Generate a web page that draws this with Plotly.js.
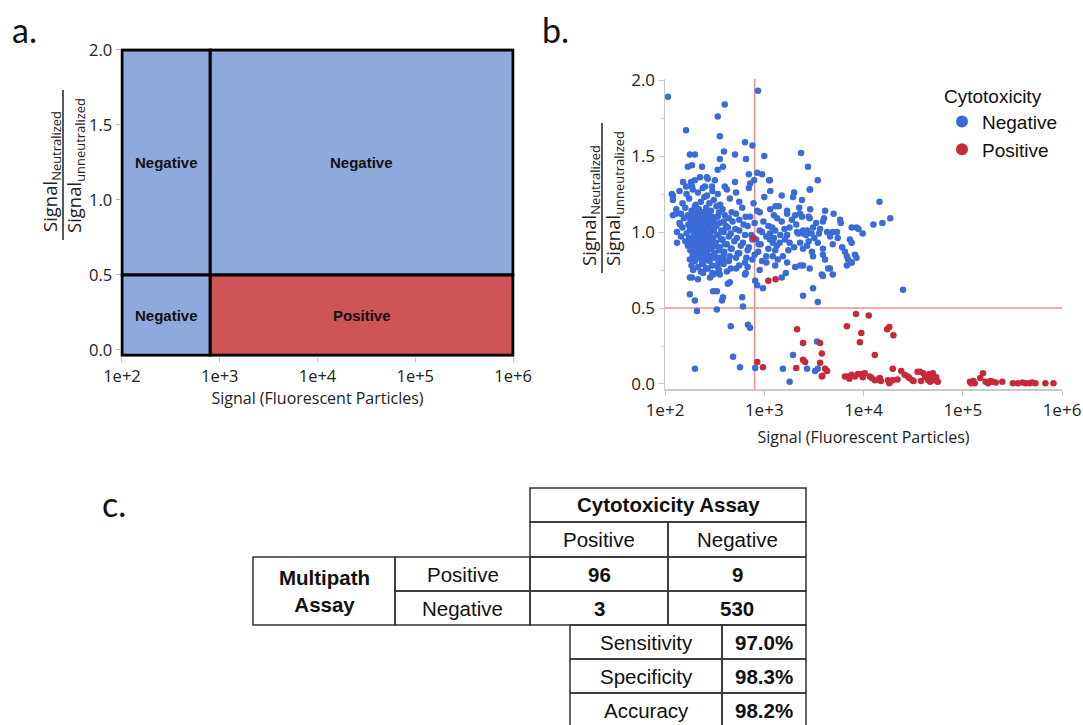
<!DOCTYPE html>
<html><head><meta charset="utf-8">
<script src="https://cdn.plot.ly/plotly-3.0.1.min.js"></script>
<style>html,body{margin:0;padding:0;background:#fff}#chart{width:1083px;height:725px}</style>
</head><body><div id="chart"></div>
<script>
// ================= DATA =================
const signalCutoff = 800;
const ratioCutoff = 0.5;
const decadeTicks = [100, 1000, 10000, 100000, 1000000];
const decadeLabels = ['1e+2', '1e+3', '1e+4', '1e+5', '1e+6'];
const ratioTicks = [0, 0.5, 1.0, 1.5, 2.0];
const ratioLabels = ['0.0', '0.5', '1.0', '1.5', '2.0'];
const xTitle = 'Signal (Fluorescent Particles)';
const yNumerator = 'Signal<sub>Neutralized</sub>';
const yDenominator = 'Signal<sub>unneutralized</sub>';
const regionLabels = ['Negative', 'Negative', 'Negative', 'Positive']; // upper-left, upper-right, lower-left, lower-right
const legendTitle = 'Cytotoxicity';
const classNames = ['Negative', 'Positive'];
const panelLabels = ['a.', 'b.', 'c.'];

// panel b points: [signal, ratio]
const negPoints = [
  [107,1.89],[865,1.93],[400,1.84],[340,1.76],[163,1.67],[357,1.63],[640,1.59],[760,1.57],[393,1.53],[178,1.51],
  [200,1.51],[507,1.51],[1000,1.50],[357,1.48],[655,1.48],[2350,1.52],[170,1.43],[187,1.44],[236,1.43],[384,1.43],
  [2760,1.43],[340,1.41],[700,1.38],[850,1.39],[950,1.38],[225,1.36],[264,1.36],[270,1.35],[1120,1.34],[3460,1.34],
  [152,1.33],[183,1.33],[200,1.34],[318,1.34],[507,1.33],[720,1.32],[790,1.34],[400,1.30],[253,1.30],[297,1.30],
  [163,1.30],[187,1.30],[2870,1.28],[1140,1.34],[117,1.25],[120,1.24],[129,1.12],[120,1.11],[142,1.05],[132,0.93],
  [140,1.27],[165,1.25],[190,1.28],[215,1.26],[240,1.29],[265,1.24],[300,1.27],[340,1.25],[420,1.28],[520,1.26],[700,1.29],[1150,1.27],[1500,1.24],[2000,1.26],[2900,1.28],
  [120,1.21],[150,1.19],[175,1.22],[205,1.18],[230,1.20],[250,1.23],[280,1.19],[310,1.21],[360,1.18],[450,1.22],[560,1.20],[780,1.19],[1000,1.23],[1300,1.17],[1950,1.23],[2400,1.21],[14500,1.20],
  [130,1.15],[160,1.16],[185,1.14],[200,1.17],[220,1.15],[245,1.13],[260,1.16],[290,1.14],[330,1.17],[380,1.15],[470,1.13],[600,1.16],[850,1.14],[1150,1.15],[1400,1.17],[1700,1.14],[2250,1.16],[2900,1.15],
  [145,1.12],[170,1.11],[195,1.13],[210,1.12],[225,1.10],[240,1.13],[255,1.11],[270,1.12],[300,1.10],[350,1.13],[400,1.11],[520,1.12],[650,1.10],[900,1.13],[1250,1.11],[1700,1.12],[2050,1.11],[2300,1.12],[2800,1.10],[4100,1.14],[5000,1.12],
  [155,1.09],[180,1.08],[192,1.10],[205,1.07],[218,1.09],[232,1.08],[248,1.10],[262,1.07],[280,1.09],[310,1.08],[340,1.10],[390,1.07],[440,1.09],[560,1.08],[720,1.10],[980,1.07],[1350,1.09],[1900,1.08],[2400,1.10],[2870,1.09],[4000,1.09],[18600,1.09],
  [140,1.06],[172,1.05],[188,1.07],[200,1.06],[212,1.04],[226,1.07],[240,1.05],[255,1.06],[275,1.04],[295,1.07],[320,1.05],[355,1.06],[410,1.04],[480,1.07],[620,1.05],[800,1.06],[1100,1.04],[1500,1.07],[2100,1.05],[3330,1.06],[3900,1.07],[5800,1.08],[15500,1.06],[12600,1.05],
  [150,1.03],[178,1.02],[190,1.04],[203,1.01],[215,1.03],[228,1.02],[242,1.04],[258,1.01],[276,1.03],[300,1.02],[330,1.04],[370,1.01],[430,1.03],[510,1.02],[680,1.04],[900,1.01],[1200,1.03],[1600,1.02],[1800,1.03],[2460,1.01],[2700,1.01],[3100,1.03],[3650,1.02],[5900,1.06],[7600,1.03],[8500,1.03],[8900,1.02],
  [132,1.00],[165,0.99],[185,1.01],[198,0.98],[210,1.00],[222,0.99],[236,1.01],[250,0.98],[266,1.00],[285,0.99],[310,1.01],[345,0.98],[390,1.00],[460,0.99],[560,1.01],[740,0.98],[950,1.00],[1140,0.99],[1290,1.01],[1450,0.98],[2140,1.00],[2460,0.99],[3000,0.99],[3560,0.99],[4300,1.00],[4900,1.00],[5400,1.00],[9800,0.99],
  [145,0.97],[175,0.96],[195,0.98],[207,0.95],[219,0.97],[233,0.96],[247,0.98],[262,0.95],[280,0.97],[305,0.96],[335,0.98],[380,0.95],[440,0.97],[530,0.96],[640,0.98],[830,0.95],[1050,0.97],[1250,0.96],[1700,0.98],[2200,0.99],[2630,0.98],[3200,0.96],[4600,0.97],[5500,0.96],
  [160,0.94],[182,0.93],[200,0.95],[215,0.92],[228,0.94],[243,0.93],[258,0.95],[275,0.92],[298,0.94],[325,0.93],[365,0.95],[420,0.92],[500,0.94],[610,0.93],[760,0.95],[920,0.92],[1140,0.95],[1220,0.93],[1620,0.95],[1800,0.93],[2300,0.93],[2800,0.94],[3460,0.93],[4900,0.92],[7300,0.95],[7600,0.93],
  [170,0.91],[190,0.90],[206,0.92],[222,0.89],[238,0.91],[253,0.90],[272,0.92],[295,0.89],[320,0.91],[355,0.90],[400,0.92],[470,0.89],[580,0.91],[700,0.90],[880,0.92],[1340,0.91],[1430,0.93],[2000,0.90],[2700,0.91],[3900,0.89],[6100,0.90],
  [180,0.88],[198,0.87],[214,0.89],[230,0.86],[246,0.88],[265,0.87],[288,0.89],[315,0.86],[350,0.88],[395,0.87],[460,0.89],[560,0.86],[680,0.88],[870,0.87],[1100,0.89],[1290,0.88],[1750,0.88],[2460,0.89],[6500,0.87],[6800,0.84],
  [190,0.85],[208,0.84],[225,0.86],[242,0.83],[262,0.85],[285,0.84],[312,0.86],[348,0.83],[390,0.85],[450,0.84],[540,0.86],[660,0.83],[800,0.85],[1050,0.84],[1220,0.84],[1540,0.84],[3020,0.87],[3900,0.85],[8200,0.85],[7600,0.80],
  [178,0.82],[200,0.81],[218,0.83],[236,0.80],[256,0.82],[280,0.81],[310,0.83],[345,0.80],[390,0.82],[440,0.81],[520,0.83],[640,0.80],[760,0.82],[950,0.81],[1370,0.82],[1700,0.80],[3100,0.84],[4100,0.82],[7000,0.82],[8500,0.83],
  [185,0.78],[215,0.77],[242,0.79],[270,0.76],[300,0.78],[340,0.77],[390,0.79],[460,0.76],[560,0.78],[680,0.77],[1050,0.80],[1290,0.78],[2050,0.77],[2300,0.78],[2460,0.78],[4400,0.76],[6800,0.78],
  [192,0.75],[230,0.74],[260,0.76],[300,0.73],[350,0.75],[420,0.74],[520,0.76],[650,0.73],[900,0.75],[1650,0.73],[2870,0.76],[4600,0.76],[7600,0.80],
  [215,0.69],[242,0.73],[284,0.70],[305,0.72],[340,0.73],[357,0.72],[450,0.67],[640,0.72],[3900,0.71],[3800,0.72],[4900,0.72],
  [178,0.70],[187,0.70],[430,0.66],[810,0.68],[850,0.65],[970,0.63],[1500,0.70],
  [178,0.59],[200,0.55],[305,0.61],[333,0.61],[375,0.55],[384,0.57],[610,0.51],[600,0.57],[3100,0.63],[2460,0.58],
  [3460,0.54],[25000,0.62],[210,0.48],[333,0.49],[460,0.38],[685,0.39],[720,0.37],[485,0.18],[200,0.10],[570,0.11],
  [810,0.105],[1540,0.10],[1800,0.015],[1950,0.19],[2700,0.10],[3250,0.085],[3460,0.10],[3400,0.28]
];
const posPoints = [
  [1100,0.68],[1300,0.69],[780,0.96],
  [2140,0.36],[2460,0.27],[3650,0.27],[3800,0.20],[2460,0.16],[2580,0.145],[2100,0.105],[3650,0.14],[3800,0.05],[3850,0.055],[4100,0.10],[4300,0.085],[850,0.145],[970,0.11],
  [6800,0.38],[8400,0.46],[11300,0.45],[9500,0.335],[9200,0.275],[13000,0.19],[17300,0.36],[18200,0.375],[20000,0.32],[19700,0.10],[24000,0.085],
  [7000,0.05],[7600,0.06],[8200,0.05],[8800,0.065],[9600,0.065],[9800,0.045],[10300,0.07],[11600,0.05],[12100,0.04],[13000,0.025],
  [13900,0.03],[14600,0.04],[17700,0.025],[18200,0.005],[19700,0.025],[28000,0.05],[29000,0.04],[31000,0.025],[32000,0.02],[35000,0.08],
  [37000,0.08],[40000,0.07],[42000,0.045],[44000,0.05],[46000,0.065],[48000,0.045],[50000,0.07],[52000,0.025],[54000,0.045],[56000,0.015],
  [45000,0.025],[47000,0.015],[6500,0.05],[7200,0.035],[15000,0.02],[22000,0.03],[26000,0.06],[38000,0.02],
  [118000,0.015],[122000,0.005],[128000,0.02],[132000,0.005],[150000,0.04],[160000,0.07],[170000,0.015],[180000,0.005],[190000,0.02],[200000,0.015],
  [215000,0.01],[250000,0.015],[320000,0.005],[360000,0.005],[400000,0.01],[430000,0.005],[470000,0.005],[500000,0.01],[540000,0.005],[680000,0.005],[820000,0.005]
];

// panel c table
const tableTitle = 'Cytotoxicity Assay';
const cytoClasses = ['Positive', 'Negative'];
const multipathTitle = 'Multipath<br>Assay';
const multipathClasses = ['Positive', 'Negative'];
const counts = [[96, 9], [3, 530]];
const metricNames = ['Sensitivity', 'Specificity', 'Accuracy'];
const metricValues = ['97.0%', '98.3%', '98.2%'];

// ================= STYLE / LAYOUT =================
const W = 1083, H = 725;
const px = v => v / W;
const py = v => 1 - v / H;
const BLUE_REGION = '#8eaadc', RED_REGION = '#cd5355';
const BLUE_PT = '#3a6bd8', RED_PT = '#c8283a';
const REF_LINE = '#f08c8c';
const TICK_FONT = {family: 'Open Sans, Noto Sans, sans-serif', size: 16.5, color: '#222'};
const TITLE_FONT = {family: 'Open Sans, Noto Sans, sans-serif', size: 16, color: '#222'};
const TABLE_FONT = 'Liberation Sans, Arial, sans-serif';

const traces = [
  {type: 'scatter', mode: 'markers', name: classNames[0], xaxis: 'x2', yaxis: 'y2',
   x: negPoints.map(p => p[0]), y: negPoints.map(p => p[1]),
   marker: {color: BLUE_PT, size: 6.5}, hoverinfo: 'x+y'},
  {type: 'scatter', mode: 'markers', name: classNames[1], xaxis: 'x2', yaxis: 'y2',
   x: posPoints.map(p => p[0]), y: posPoints.map(p => p[1]),
   marker: {color: RED_PT, size: 6.5}, hoverinfo: 'x+y'}
];

const yMinA = -0.035;
const xLo = decadeTicks[0], xHi = decadeTicks[decadeTicks.length - 1];
const yHi = ratioTicks[ratioTicks.length - 1];

const shapes = [];
// panel a regions
const regions = [
  [xLo, signalCutoff, ratioCutoff, yHi, BLUE_REGION],
  [signalCutoff, xHi, ratioCutoff, yHi, BLUE_REGION],
  [xLo, signalCutoff, yMinA, ratioCutoff, BLUE_REGION],
  [signalCutoff, xHi, yMinA, ratioCutoff, RED_REGION]
];
regions.forEach(r => shapes.push({type: 'rect', xref: 'x', yref: 'y', x0: r[0], x1: r[1], y0: r[2], y1: r[3],
  fillcolor: r[4], line: {color: '#000', width: 3}, layer: 'above'}));
// panel b reference lines
shapes.push({type: 'line', xref: 'x2', yref: 'y2 domain', x0: signalCutoff, x1: signalCutoff, y0: 0, y1: 1,
  line: {color: REF_LINE, width: 1.5}, layer: 'below'});
shapes.push({type: 'line', xref: 'x2 domain', yref: 'y2', x0: 0, x1: 1, y0: ratioCutoff, y1: ratioCutoff,
  line: {color: REF_LINE, width: 1.5}, layer: 'below'});
// fraction bars
shapes.push({type: 'line', xref: 'paper', yref: 'paper', x0: px(63), x1: px(63), y0: py(90), y1: py(240), line: {color: '#222', width: 1.5}});
shapes.push({type: 'line', xref: 'paper', yref: 'paper', x0: px(602), x1: px(602), y0: py(123), y1: py(273), line: {color: '#222', width: 1.5}});

const annotations = [];
// panel labels
[[10, 30], [540, 30], [100, 503]].forEach((p, i) => annotations.push({xref: 'paper', yref: 'paper', x: px(p[0]), y: py(p[1]),
  xanchor: 'left', yanchor: 'middle', showarrow: false, text: panelLabels[i],
  font: {family: 'Lato, Open Sans, sans-serif', size: 34, color: '#111'}}));
// region labels (log positions for annotations)
const lc = Math.log10(signalCutoff), l0 = Math.log10(xLo), l1 = Math.log10(xHi);
const regionCenters = [[(l0 + lc) / 2, (ratioCutoff + yHi) / 2], [(lc + l1) / 2, (ratioCutoff + yHi) / 2],
  [(l0 + lc) / 2, (yMinA + ratioCutoff) / 2], [(lc + l1) / 2, (yMinA + ratioCutoff) / 2]];
regionCenters.forEach((c, i) => annotations.push({xref: 'x', yref: 'y', x: c[0], y: c[1], showarrow: false,
  text: '<b>' + regionLabels[i] + '</b>', font: {family: TABLE_FONT, size: 15, color: '#111'}}));
// y titles as fractions
const FRAC_FONT = {family: 'Open Sans, Noto Sans, sans-serif', size: 18.5, color: '#222'};
[[51, 172, yNumerator], [75, 166, yDenominator], [590, 206, yNumerator], [614, 199, yDenominator]].forEach(a =>
  annotations.push({xref: 'paper', yref: 'paper', x: px(a[0]), y: py(a[1]), xanchor: 'center', yanchor: 'middle',
    textangle: -90, showarrow: false, text: a[2], font: FRAC_FONT}));

// table
const TL = '#333';
const colX = [253, 395, 530, 570, 668, 722, 806];
const rowY = [488, 522, 557, 591, 625, 659, 693, 727];
function cell(x0, x1, y0, y1, text, bold) {
  shapes.push({type: 'rect', xref: 'paper', yref: 'paper', x0: px(x0), x1: px(x1), y0: py(y1), y1: py(y0),
    line: {color: TL, width: 1.5}, fillcolor: 'rgba(0,0,0,0)'});
  annotations.push({xref: 'paper', yref: 'paper', x: px((x0 + x1) / 2), y: py((y0 + y1) / 2), xanchor: 'center', yanchor: 'middle',
    showarrow: false, text: bold ? '<b>' + text + '</b>' : text, font: {family: TABLE_FONT, size: 20.5, color: '#111'}});
}
cell(colX[2], colX[6], rowY[0], rowY[1], tableTitle, true);
cell(colX[2], colX[4], rowY[1], rowY[2], cytoClasses[0], false);
cell(colX[4], colX[6], rowY[1], rowY[2], cytoClasses[1], false);
cell(colX[0], colX[1], rowY[2], rowY[4], multipathTitle, true);
for (let r = 0; r < 2; r++) {
  cell(colX[1], colX[2], rowY[2 + r], rowY[3 + r], multipathClasses[r], false);
  cell(colX[2], colX[4], rowY[2 + r], rowY[3 + r], String(counts[r][0]), true);
  cell(colX[4], colX[6], rowY[2 + r], rowY[3 + r], String(counts[r][1]), true);
}
for (let r = 0; r < 3; r++) {
  cell(colX[3], colX[5], rowY[4 + r], rowY[5 + r], metricNames[r], false);
  cell(colX[5], colX[6], rowY[4 + r], rowY[5 + r], metricValues[r], true);
}

const layout = {
  width: W, height: H, margin: {l: 0, r: 0, t: 0, b: 0},
  paper_bgcolor: '#fff', plot_bgcolor: 'rgba(0,0,0,0)', showlegend: true,
  xaxis: {domain: [px(120.5), px(514.5)], type: 'log', range: [1.985, 6.015], tickvals: decadeTicks, ticktext: decadeLabels,
    showgrid: false, zeroline: false, showline: false, ticks: 'outside', ticklen: 4, tickcolor: '#bbb',
    tickfont: TICK_FONT, title: {text: xTitle, font: TITLE_FONT, standoff: 6}, fixedrange: true},
  yaxis: {domain: [0.50793, 0.93352], range: [-0.045, 2.012], tickvals: ratioTicks, ticktext: ratioLabels,
    showgrid: false, zeroline: false, showline: false, ticks: 'outside', ticklen: 4, tickcolor: '#bbb',
    tickfont: TICK_FONT, fixedrange: true},
  xaxis2: {domain: [px(665), px(1062)], type: 'log', range: [2, 6], anchor: 'y2', tickvals: decadeTicks, ticktext: decadeLabels,
    showgrid: false, zeroline: false, showline: true, linecolor: '#c8c8c8', linewidth: 1.5,
    ticks: 'outside', ticklen: 5, tickcolor: '#c8c8c8', tickfont: Object.assign({}, TICK_FONT, {size: 17}),
    title: {text: xTitle, font: TITLE_FONT, standoff: 12}, fixedrange: true},
  yaxis2: {domain: [py(389), py(79)], range: [-0.033, 2.007], anchor: 'x2', tickvals: ratioTicks, ticktext: ratioLabels,
    showgrid: false, zeroline: false, showline: true, linecolor: '#c8c8c8', linewidth: 1.5,
    ticks: 'outside', ticklen: 5, tickcolor: '#c8c8c8', tickfont: Object.assign({}, TICK_FONT, {size: 17}),
    minor: {dtick: 0.25, ticks: 'outside', ticklen: 3, tickcolor: '#d0d0d0'}, fixedrange: true},
  legend: {x: px(942), y: py(78), xanchor: 'left', yanchor: 'top', bgcolor: 'rgba(0,0,0,0)',
    title: {text: legendTitle, font: {family: TABLE_FONT, size: 19, color: '#111'}},
    font: {family: TABLE_FONT, size: 19, color: '#111'}, itemsizing: 'constant', tracegroupgap: 0},
  shapes: shapes, annotations: annotations
};

Plotly.newPlot('chart', traces, layout, {displayModeBar: false, staticPlot: true});
</script>
</body></html>
